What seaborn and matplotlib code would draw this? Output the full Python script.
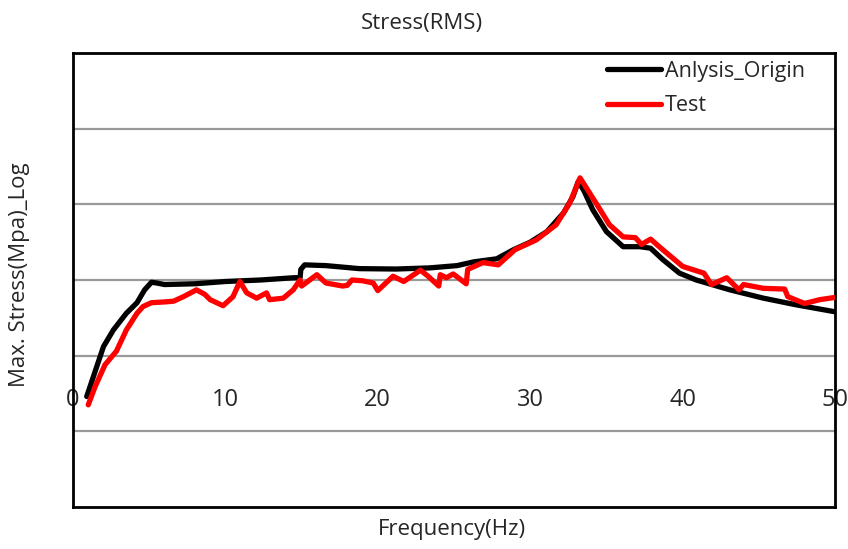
import matplotlib
matplotlib.use("Agg")
import matplotlib.pyplot as plt
import seaborn as sns
import pandas as pd

# ---- data ----
ana_freq = [0.9, 1.35, 2.0, 2.65, 3.5, 4.2, 4.7, 5.15, 5.5, 6.0, 8.0, 10.0, 12.3, 14.5, 14.9,
            14.95, 15.2, 16.6, 18.8, 21.2, 23.4, 25.2, 26.3, 27.8, 28.9, 30.0, 31.1, 32.2, 32.8,
            33.15, 33.5, 34.1, 35.0, 36.1, 37.2, 37.9, 38.7, 39.8, 40.9, 43.1, 45.3, 47.5, 50.0]
ana_val = [-0.54, -0.27, 0.12, 0.34, 0.56, 0.70, 0.87, 0.97, 0.96, 0.94, 0.95, 0.98, 1.00, 1.03, 1.03,
           1.14, 1.20, 1.19, 1.15, 1.145, 1.16, 1.19, 1.24, 1.28, 1.40, 1.50, 1.64, 1.89, 2.10,
           2.30, 2.19, 1.93, 1.64, 1.44, 1.44, 1.42, 1.27, 1.09, 1.00, 0.87, 0.76, 0.67, 0.58]

test_freq = [1.0, 1.45, 2.1, 2.85, 3.5, 4.2, 4.6, 5.15, 6.0, 6.6, 7.25, 8.1, 8.65, 9.0, 9.85, 10.5,
             10.95, 11.4, 12.05, 12.7, 12.9, 13.8, 14.45, 14.9, 15.0, 16.0, 16.6, 17.7, 18.0, 18.3,
             19.0, 19.7, 20.0, 21.0, 21.7, 22.8, 23.3, 24.0, 24.1, 24.5, 24.95, 25.8, 25.9, 26.9,
             27.9, 29.0, 30.4, 31.7, 32.6, 33.27, 34.4, 35.2, 36.1, 36.9, 37.3, 37.9, 38.7, 40.0,
             41.4, 41.9, 42.9, 43.7, 44.0, 45.3, 46.7, 46.9, 48.0, 49.0, 50.0]
test_val = [-0.65, -0.41, -0.12, 0.06, 0.34, 0.56, 0.65, 0.70, 0.71, 0.72, 0.78, 0.87, 0.81, 0.74, 0.66, 0.78,
            0.98, 0.83, 0.76, 0.83, 0.74, 0.76, 0.87, 1.00, 0.92, 1.07, 0.96, 0.92, 0.93, 1.00,
            0.99, 0.96, 0.86, 1.05, 0.98, 1.13, 1.05, 0.92, 1.07, 1.03, 1.08, 0.95, 1.14, 1.23,
            1.20, 1.40, 1.53, 1.73, 2.02, 2.35, 1.99, 1.73, 1.57, 1.56, 1.47, 1.54, 1.40, 1.18,
            1.09, 0.94, 1.03, 0.87, 0.94, 0.89, 0.88, 0.78, 0.69, 0.74, 0.77]

x_ticks = [0, 10, 20, 30, 40, 50]
y_grid = [-1, 0, 1, 2, 3]

title = "Stress(RMS)"
xlabel = "Frequency(Hz)"
ylabel = "Max. Stress(Mpa)_Log"
series_names = ["Anlysis_Origin", "Test"]

sns.set_style("white")
plt.rcParams["font.family"] = ["Open Sans", "DejaVu Sans"]

fig = plt.figure(figsize=(8.48, 5.49), dpi=100)
ax = fig.add_axes([73 / 848, 1 - 507 / 549, (835 - 73) / 848, (507 - 53) / 549])

df_a = pd.DataFrame({"f": ana_freq, "v": ana_val})
df_t = pd.DataFrame({"f": test_freq, "v": test_val})

line_kw = dict(estimator=None, sort=False, lw=3.8,
               solid_joinstyle="round", solid_capstyle="round")
sns.lineplot(data=df_a, x="f", y="v", ax=ax, color="black",
             label=series_names[0], zorder=3, **line_kw)
sns.lineplot(data=df_t, x="f", y="v", ax=ax, color="#ff0000",
             label=series_names[1], zorder=4, **line_kw)

ax.set_xlim(0, 50)
ax.set_ylim(-2, 4)

for g in y_grid:
    ax.axhline(g, color="#9a9a9a", lw=1.6, zorder=1)

ax.set_xticks([])
ax.set_yticks([])
ax.set_xlabel("")
ax.set_ylabel("")
for s in ax.spines.values():
    s.set_visible(True)
    s.set_color("black")
    s.set_linewidth(2.0)

sec = ax.secondary_xaxis(location=1 / 3)
sec.set_xticks(x_ticks)
sec.set_xticklabels([str(t) for t in x_ticks])
sec.tick_params(axis="x", length=0, pad=23, labelsize=17)
sec.spines["bottom"].set_visible(False)

fig.text(0.498, 1 - 23 / 549, title, ha="center", va="center", fontsize=16)
fig.text(452 / 848, 1 - 530 / 549, xlabel, ha="center", va="center", fontsize=16)
fig.text(20 / 848, 1 - 275 / 549, ylabel, ha="center", va="center", rotation=90, fontsize=16)

leg = ax.legend(loc="upper left", bbox_to_anchor=((607 - 73) / 762, (507 - 61) / 454),
                frameon=False, fontsize=15.5, handlelength=2.5, handletextpad=0.2,
                labelspacing=0.62, borderpad=0, borderaxespad=0)
for h in leg.get_lines():
    h.set_linewidth(3.8)
    h.set_solid_capstyle("round")

fig.savefig("out.png", dpi=100)
